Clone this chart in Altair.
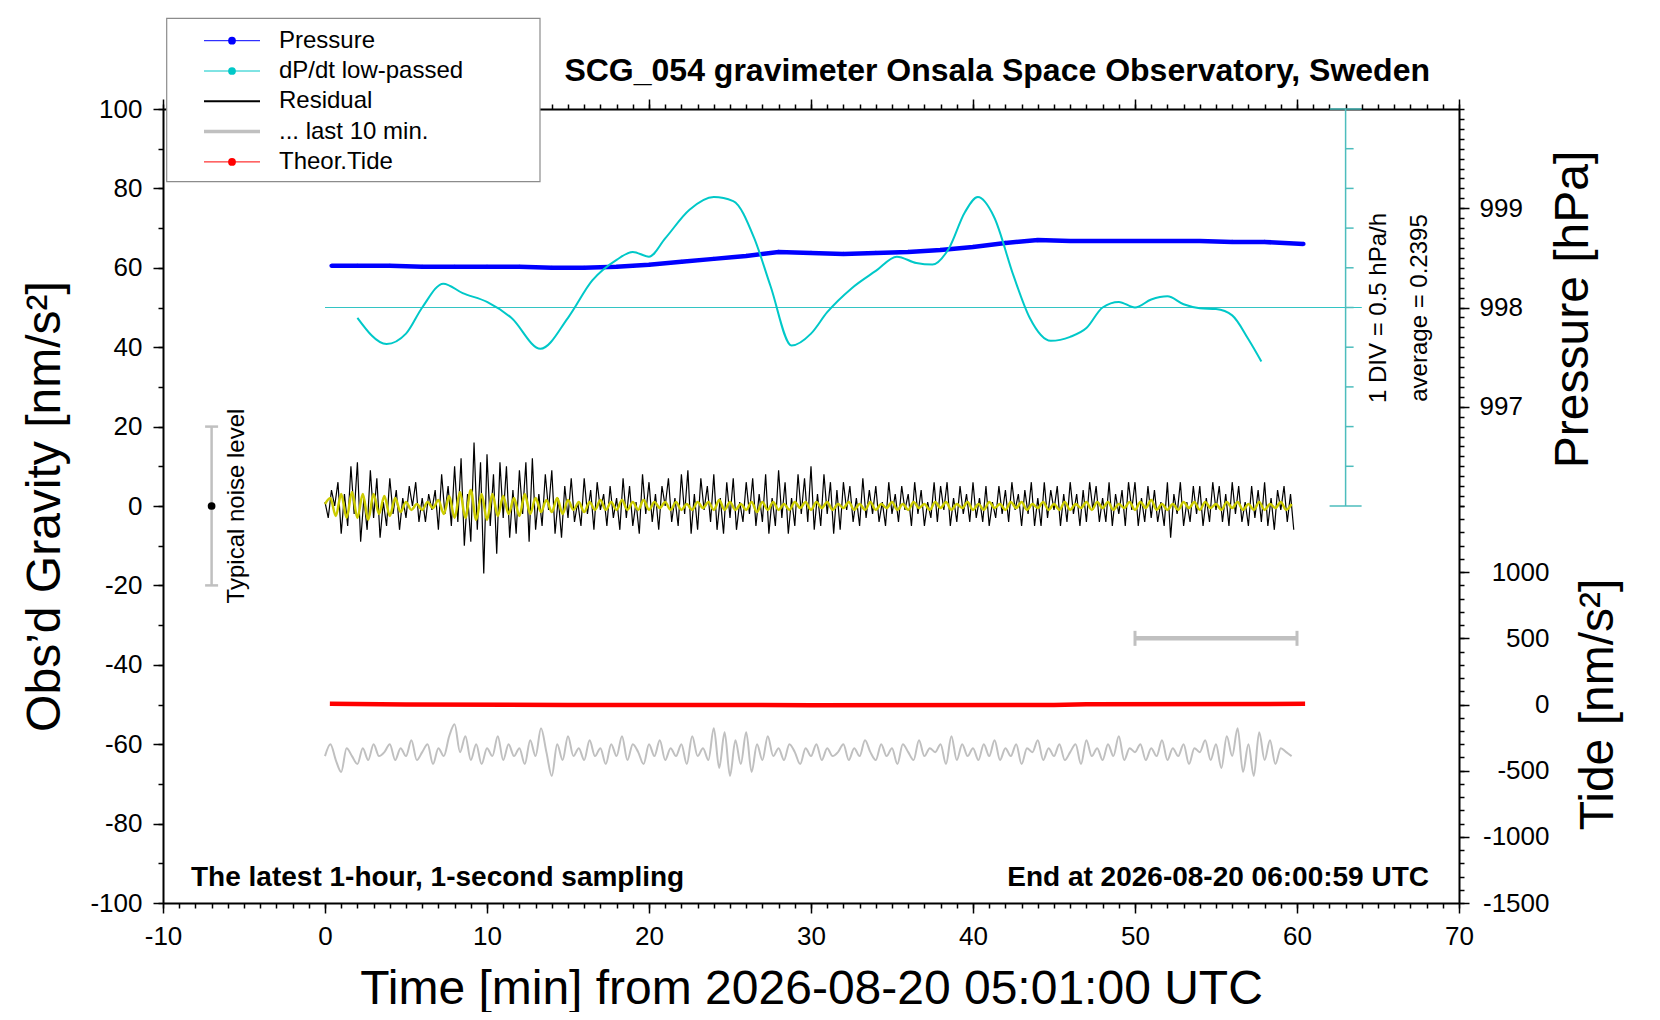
import altair as alt
import pandas as pd

FONT = "Liberation Sans"

# residual gravity, nm/s^2, one value every 0.2 min
RES_STEP = 0.2
RESIDUAL = [
    1, -3, 4, 0, 6, -7, 3, -5, 10, -2,
    11, -9, 2, -6, 9, -3, 7, -8, 1, -5,
    7, -2, 4, -6, 2, -3, 5, 0, 6, -4,
    2, -4, 3, -1, 4, -6, 8, -2, 5, -5,
    10, -4, 12, -10, 3, -9, 16, -6, 11, -17,
    13, -5, 8, -12, 11, -3, 10, -8, 4, -7,
    9, -2, 11, -9, 12, -6, 3, -5, 8, -1,
    9, -7, 2, -8, 5, -3, 7, -4, 1, -5,
    7, -2, 4, -6, 6, -1, 3, -5, 5, -3,
    2, -6, 7, -3, 5, -5, 1, -7, 8, -2,
    6, -4, 3, -6, 5, 0, 7, -4, 2, -5,
    8, -2, 9, -7, 3, -6, 7, -1, 5, -4,
    8, -6, 2, -7, 6, -3, 7, -6, 1, -4,
    6, -2, 7, -5, 3, -4, 8, -7, 2, -5,
    9, -3, 6, -7, 2, -5, 8, -2, 7, -4,
    10, -6, 3, -5, 8, -2, 6, -7, 4, -6,
    6, -1, 5, -4, 2, -5, 7, -3, 4, -2,
    5, -4, 1, -5, 6, -2, 3, -4, 5, -1,
    3, -5, 6, -2, 4, -5, 1, -3, 6, -4,
    5, -1, 6, -5, 2, -4, 5, -2, 3, -4,
    6, -3, 2, -4, 5, -5, 1, -3, 5, -2,
    4, -4, 6, -1, 3, -5, 4, -2, 6, -5,
    2, -5, 6, -3, 4, -1, 5, -5, 3, -4,
    6, -2, 3, -5, 4, -4, 6, -1, 5, -4,
    2, -4, 6, -5, 3, -2, 4, -5, 6, -1,
    6, -5, 2, -4, 5, -3, 4, -4, 1, -5,
    6, -8, 3, -2, 6, -5, 1, -4, 5, -2,
    5, -5, 2, -4, 6, -1, 5, -4, 3, -5,
    6, -2, 5, -4, 1, -5, 5, -3, 4, -4,
    6, -5, 2, -6, 4, -1, 5, -4, 3, -6,
]

# smoothed residual (yellow), one value every 1/3 min
LP_STEP = 1 / 3
LOWPASS = [
    0.5, 2, -2.5, 3, -3, 3.5,   -3, 3, -3.5, 3, -2, 2.5,
    -2.5, 2, -1.5, 1, -1, 0.5,  -1, 1, -0.5, 1.5, -2, 2.5,
    -3, 3.5, -3, 4, -3.5, 3,    -3.5, 3, -2.5, 2.5, -2, 2,
    -2.5, 3, -2, 2, -1.5, 1.5,  -1.5, 2, -2, 1.5, -1, 1,
    -1.5, 1, -1, 1.5, -1, 1,    -1, 1.5, -1, 1, -1, 1.5,
    -1, 1, -0.5, 1, -1, 1,      -1, 0.5, -1, 1, -0.5, 1,
    -1, 1.5, -1, 1, -1, 0.5,    -1, 1, -1.5, 1, -1, 1,
    -1, 0.5, -1, 1, -0.5, 1,    -1, 1, -0.5, 1, -1, 0.5,
    -0.5, 1, -1, 0.5, -1, 1,    -1, 0.5, -0.5, 1, -1, 0.5,
    -1, 1, -0.5, 0.5, -1, 1,    -0.5, 1, -1, 0.5, -0.5, 1,
    -1, 0.5, -1, 1, -0.5, 0.5,  -1, 1, -0.5, 1, -1, 0.5,
    -0.5, 1, -1, 0.5, -1, 1,    -1, 0.5, -0.5, 1, -1, 1,
    -0.5, 1, -1, 0.5, -0.5, 1,  -1, 1, -0.5, 1.5, -1, 0.5,
    -1, 0.5, -1, 1, -0.5, 1,    -1, 1, -0.5, 0.5, -1, 1,
    -0.5, 1, -1, 0.5, -1, 1,    -1, 0.5, -0.5, 1, -1, 0.5,
]

# last 10 minutes stretched over the hour (grey), plotted level
LAST10 = [
    -63, -60, -64, -67, -61, -63,  -65, -61, -64, -60, -63, -62,
    -60, -64, -61, -63, -59, -64,  -62, -60, -65, -61, -63, -58,
    -55, -62, -58, -64, -60, -65,  -61, -63, -58, -64, -60, -63,
    -61, -65, -59, -63, -56, -62,  -68, -60, -64, -58, -63, -61,
    -64, -59, -63, -61, -65, -60,  -63, -58, -64, -60, -62, -65,
    -60, -63, -59, -64, -61, -63,  -60, -65, -58, -63, -61, -64,
    -56, -66, -57, -68, -59, -65,  -57, -67, -60, -64, -58, -63,
    -61, -64, -60, -62, -65, -61,  -63, -60, -64, -61, -63, -62,
    -60, -64, -61, -63, -59, -62,  -64, -60, -63, -61, -65, -60,
    -62, -64, -59, -63, -61, -62,  -60, -65, -58, -64, -60, -63,
    -61, -64, -60, -63, -59, -64,  -61, -63, -60, -65, -61, -62,
    -59, -64, -61, -63, -60, -64,  -62, -60, -65, -59, -63, -61,
    -64, -60, -63, -58, -64, -61,  -62, -60, -64, -61, -63, -59,
    -64, -61, -63, -60, -65, -61,  -62, -59, -64, -60, -66, -58,
    -63, -56, -67, -60, -68, -57,  -64, -59, -65, -61, -62, -63,
]

PRESS_T = [0.4, 2, 4, 6, 8, 10, 12, 14, 16, 18, 20, 22, 24, 26, 28, 30,
           32, 34, 36, 38, 40, 42, 44, 46, 48, 50, 52, 54, 56, 58, 60.4]
PRESSURE = [998.42, 998.42, 998.42, 998.41, 998.41, 998.41, 998.41, 998.40,
            998.40, 998.41, 998.43, 998.46, 998.49, 998.52, 998.56, 998.55,
            998.54, 998.55, 998.56, 998.58, 998.61, 998.65, 998.68, 998.67,
            998.67, 998.67, 998.67, 998.67, 998.66, 998.66, 998.64]

DPDT_T = [2, 3.8, 5, 6, 7.3, 8.5, 10, 11.5, 13.3, 15, 16.5, 18, 19, 20, 21,
          22.5, 24, 25.2, 26.5, 27.5, 28.8, 30, 31, 32.5, 34, 35.3, 36.5,
          37.5, 38.5, 39.5, 40.3, 41.3, 42.5, 43.5, 44.8, 46, 47, 48, 49,
          50, 51, 52, 53, 54, 55, 56, 57, 57.8]
DPDT = [0.11, -0.22, -0.09, 0.24, 0.54, 0.42, 0.31, 0.11, -0.28, 0.11, 0.58,
        0.84, 0.94, 0.88, 1.11, 1.47, 1.63, 1.58, 1.11, 0.51, -0.24, -0.09,
        0.18, 0.48, 0.70, 0.88, 0.80, 0.78, 0.98, 1.44, 1.63, 1.38, 0.64,
        0.11, -0.18, -0.13, -0.02, 0.24, 0.31, 0.24, 0.34, 0.38, 0.28, 0.23,
        0.22, 0.14, -0.16, -0.44]
DPDT_AVG = 0.2395
DPDT_DIV = 0.5

TIDE_T = [0.3, 5, 15, 30, 45, 47, 60.5]
TIDE = [5, 0, -3, -5, -3, 2, 5]

NOISE_T = -7
NOISE_LEVEL = 20
BAR_T = [50, 60]
BAR_LEVEL = 500
DIV_AXIS_T = 63
DIV_LINE_T = [0, 64]

LEG_LABELS = ["Pressure", "dP/dt low-passed", "Residual", "... last 10 min.", "Theor.Tide"]
LEG_COLORS = ["#0000ff", "#00c8c8", "#000000", "#c0c0c0", "#ff0000"]
LEG_WIDTHS = [1, 1, 2, 3.5, 1]
LEG_DOTS = [True, True, False, False, True]

W, H = 1296, 794

XS = alt.Scale(domain=[-10, 70], nice=False, zero=False)
GS = alt.Scale(domain=[-100, 100], nice=False, zero=False)
PS = alt.Scale(domain=[992, 1000], nice=False, zero=False)
TS = alt.Scale(domain=[-1500, 4500], nice=False, zero=False)
DS = alt.Scale(domain=[DPDT_AVG - 15 * DPDT_DIV, DPDT_AVG + 5 * DPDT_DIV], nice=False, zero=False)

TICKS = dict(grid=False, tickColor="black", tickWidth=1.5, domainColor="black", domainWidth=2)
LABELS = dict(labelFont=FONT, labelFontSize=26, labelColor="black", labelExpr="'' + datum.value",
              titleFont=FONT, titleFontSize=48, titleFontWeight="normal", titleColor="black",
              titleBaseline="middle", titleAlign="center")


def minor_axis(orient, values, size=5):
    return alt.Axis(orient=orient, values=values, tickSize=size, labels=False,
                    domain=False, title=None, **TICKS)


def X(field, axis=None):
    return alt.X(f"{field}:Q", scale=XS, axis=axis)


def Y(field, scale=GS, axis=None):
    return alt.Y(f"{field}:Q", scale=scale, axis=axis)


x_major = list(range(-10, 71, 10))
x_minor = list(range(-10, 71))

res_df = pd.DataFrame({"t": [i * RES_STEP for i in range(len(RESIDUAL))], "g": RESIDUAL})
lp_df = pd.DataFrame({"t": [i * LP_STEP for i in range(len(LOWPASS))], "g": LOWPASS})
last_df = pd.DataFrame({"t": [i * LP_STEP for i in range(len(LAST10))], "g": LAST10})
press_df = pd.DataFrame({"t": PRESS_T, "p": PRESSURE})
dpdt_df = pd.DataFrame({"t": DPDT_T, "d": DPDT})
tide_df = pd.DataFrame({"t": TIDE_T, "v": TIDE})

residual = alt.Chart(res_df).mark_line(color="black", strokeWidth=1.2).encode(
    x=X("t", alt.Axis(orient="bottom", values=x_major, tickSize=10, labelPadding=10, labelFlush=False,
                      domain=True, title="Time [min] from 2026-08-20 05:01:00 UTC",
                      titleX=W / 2, titleY=86, **TICKS, **LABELS)),
    y=Y("g", axis=alt.Axis(orient="left", values=list(range(-100, 101, 20)), tickSize=10, labelPadding=11,
                          domain=True, title="Obs’d Gravity [nm/s²]", titleAngle=270,
                          titleX=-118, titleY=H / 2, **TICKS, **LABELS)),
)

lowpass = alt.Chart(lp_df).mark_line(color="#cccc00", strokeWidth=2.5, interpolate="monotone").encode(
    x=X("t", minor_axis("bottom", x_minor)),
    y=Y("g", axis=minor_axis("left", list(range(-100, 101, 10)))),
)

last10 = alt.Chart(last_df).mark_line(color="#c0c0c0", strokeWidth=2, interpolate="monotone").encode(
    x=X("t", alt.Axis(orient="top", values=x_major, tickSize=10, labels=False, domain=True,
                      title=None, **TICKS)),
    y=Y("g"),
)

tide = alt.Chart(tide_df).mark_line(color="#ff0000", strokeWidth=4.5).encode(
    x=X("t", minor_axis("top", x_minor)),
    y=Y("v", TS, alt.Axis(orient="right", values=list(range(-1500, 1001, 500)), tickSize=10,
                          labelAlign="right", labelPadding=80, domain=False,
                          title="Tide [nm/s²]", titleAngle=270, titleX=139, titleY=595,
                          **TICKS, **LABELS)),
)

bar_df = pd.DataFrame({"t0": [BAR_T[0]], "t1": [BAR_T[1]], "v": [BAR_LEVEL]})
bar = alt.Chart(bar_df).mark_rule(color="#c0c0c0", strokeWidth=4.5).encode(
    x=X("t0"), x2="t1",
    y=Y("v", TS, minor_axis("right", list(range(-1500, 1501, 100)))),
)
bar_caps = alt.Chart(pd.DataFrame({"t": BAR_T, "v": [BAR_LEVEL] * 2})).mark_tick(
    orient="vertical", color="#c0c0c0", size=15, thickness=3, opacity=1
).encode(x=X("t"), y=Y("v", TS))

pressure = alt.Chart(press_df).mark_line(color="#0000ff", strokeWidth=4.5).encode(
    x=X("t"),
    y=Y("p", PS, alt.Axis(orient="right", values=[997, 998, 999], tickSize=10, labelPadding=10,
                          domain=True, title="Pressure [hPa]", titleAngle=270,
                          titleX=114, titleY=200, **TICKS, **LABELS)),
)
pressure_pts = alt.Chart(press_df).mark_point(color="#0000ff", filled=True, size=18, opacity=1).encode(
    x=X("t"),
    y=Y("p", PS, minor_axis("right", [round(996 + i * 0.1, 1) for i in range(41)])),
)

dpdt = alt.Chart(dpdt_df).mark_line(color="#00c8c8", strokeWidth=2, interpolate="monotone").encode(
    x=X("t"), y=Y("d", DS),
)

div_axis_color = "#4dbdbd"
div_line = alt.Chart(pd.DataFrame({"t0": [DIV_LINE_T[0]], "t1": [DIV_LINE_T[1]], "d": [DPDT_AVG]})).mark_rule(
    color="#33c4c4", strokeWidth=1.2
).encode(x=X("t0"), x2="t1", y=Y("d", DS))
div_axis = alt.Chart(pd.DataFrame({
    "t": [DIV_AXIS_T], "d0": [DPDT_AVG - 5 * DPDT_DIV], "d1": [DPDT_AVG + 5 * DPDT_DIV]
})).mark_rule(color=div_axis_color, strokeWidth=1.5).encode(x=X("t"), y=Y("d0", DS), y2="d1")
div_ticks = alt.Chart(pd.DataFrame({
    "t": [DIV_AXIS_T] * 9, "d": [DPDT_AVG + k * DPDT_DIV for k in range(-4, 5)]
})).mark_tick(orient="horizontal", color=div_axis_color, size=8, thickness=1.5, xOffset=4, opacity=1).encode(
    x=X("t"), y=Y("d", DS))
div_ends = alt.Chart(pd.DataFrame({
    "t": [DIV_AXIS_T] * 2, "d": [DPDT_AVG - 5 * DPDT_DIV, DPDT_AVG + 5 * DPDT_DIV]
})).mark_tick(orient="horizontal", color=div_axis_color, size=32, thickness=1.5, opacity=1).encode(
    x=X("t"), y=Y("d", DS))

noise_df = pd.DataFrame({"t": [NOISE_T], "lo": [-NOISE_LEVEL], "hi": [NOISE_LEVEL], "c": [0]})
noise_bar = alt.Chart(noise_df).mark_rule(color="#c0c0c0", strokeWidth=2.5).encode(
    x=X("t"), y=Y("lo"), y2="hi")
noise_caps = alt.Chart(pd.DataFrame({"t": [NOISE_T] * 2, "g": [-NOISE_LEVEL, NOISE_LEVEL]})).mark_tick(
    orient="horizontal", color="#c0c0c0", size=13, thickness=2.5, opacity=1).encode(x=X("t"), y=Y("g"))
noise_dot = alt.Chart(noise_df).mark_point(color="black", filled=True, size=60, opacity=1).encode(
    x=X("t"), y=Y("c"))


def label(text, px, py, size, weight="normal", angle=0, align="center"):
    return alt.Chart(pd.DataFrame({"s": [text]})).mark_text(
        font=FONT, fontSize=size, fontWeight=weight, angle=angle, align=align,
        baseline="middle", color="black"
    ).encode(x=alt.value(px), y=alt.value(py), text="s:N")


texts = [
    label("SCG_054 gravimeter Onsala Space Observatory, Sweden", 1267, -38, 32, "bold", align="right"),
    label("The latest 1-hour, 1-second sampling", 28, 769, 28, "bold", align="left"),
    label("End at 2026-08-20 06:00:59 UTC", 1266, 769, 28, "bold", align="right"),
    label("Typical noise level", 74, 397, 24, angle=270),
    label("1 DIV = 0.5 hPa/h", 1216, 199, 24, angle=270),
    label("average = 0.2395", 1257, 199, 24, angle=270),
]

leg_df = pd.DataFrame({
    "label": LEG_LABELS, "color": LEG_COLORS, "w": LEG_WIDTHS, "dot": LEG_DOTS,
    "py": [-68.3 + 30.3 * i for i in range(len(LEG_LABELS))],
})
leg_box = alt.Chart(pd.DataFrame({"a": [0]})).mark_rect(
    fill="white", stroke="#8c8c8c", strokeWidth=1.2
).encode(x=alt.value(3.7), x2=alt.value(377), y=alt.value(-90.7), y2=alt.value(72.7))
leg_lines = alt.Chart(leg_df).mark_rule().encode(
    x=alt.value(41), x2=alt.value(97), y=alt.Y("py:Q", scale=None),
    color=alt.Color("color:N", scale=None), strokeWidth=alt.StrokeWidth("w:Q", scale=None),
)
leg_dots = alt.Chart(leg_df).transform_filter("datum.dot").mark_point(filled=True, size=60, opacity=1).encode(
    x=alt.value(69), y=alt.Y("py:Q", scale=None), color=alt.Color("color:N", scale=None),
)
leg_text = alt.Chart(leg_df).mark_text(font=FONT, fontSize=24, align="left", baseline="middle", color="black").encode(
    x=alt.value(116), y=alt.Y("py:Q", scale=None), text="label:N",
)

chart = alt.layer(
    residual, lowpass, last10, tide, bar, bar_caps, pressure, pressure_pts,
    div_line, div_axis, div_ticks, div_ends, dpdt,
    noise_bar, noise_caps, noise_dot,
    *texts, leg_box, leg_lines, leg_dots, leg_text,
).resolve_scale(y="independent").resolve_axis(x="independent").properties(
    width=W, height=H,
    autosize=alt.AutoSizeParams(type="none"),
    padding={"left": 155, "top": 101, "right": 193, "bottom": 109},
    background="white",
).configure_view(strokeWidth=0)

chart.save("out.html", embed_options={"renderer": "svg", "actions": False})
